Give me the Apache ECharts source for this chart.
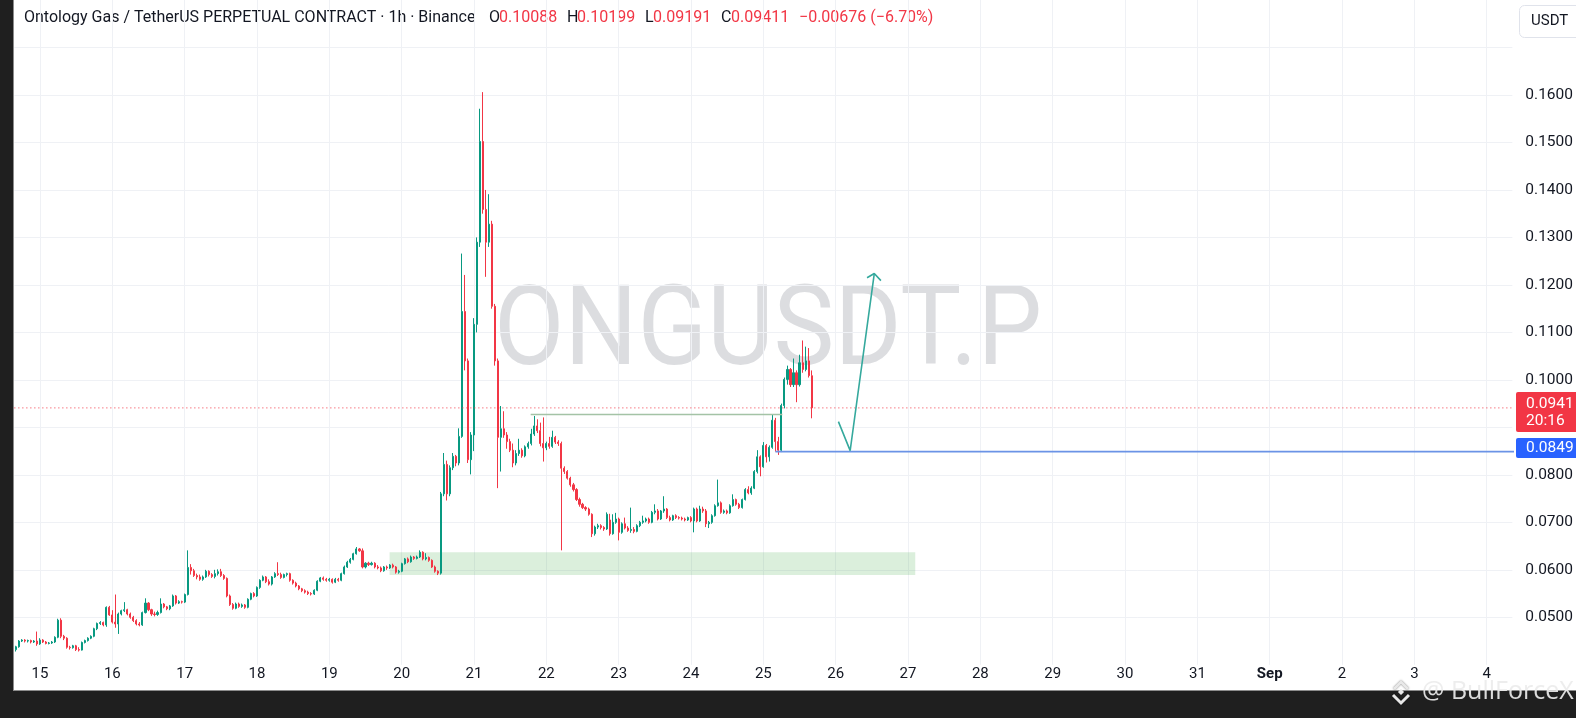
<!DOCTYPE html>
<html><head><meta charset="utf-8">
<script src="https://cdn.jsdelivr.net/npm/echarts@6/dist/echarts.min.js"></script>
<style>
html,body{margin:0;padding:0;background:#1f1f1f;width:1576px;height:718px;overflow:hidden}
#panel{position:absolute;left:13px;top:0;width:1563px;height:691px;background:#fff;border-left:1px solid #8c8c8c;border-bottom:1px solid #8c8c8c;box-sizing:border-box}
#chart{position:absolute;left:0;top:0;width:1576px;height:718px}
</style></head><body>
<div id="panel"></div><div id="chart"></div>
<script>
// ---- data: hourly candles [open, high, low, close], ONGUSDT.P 1h ----
const d14 = [[.0432,.0440,.0428,.0438],[.0438,.0452,.0436,.0450],[.0450,.0454,.0448,.0452],[.0452,.0454,.0447,.0450],[.0450,.0453,.0447,.0451],[.0451,.0453,.0445,.0448],[.0448,.0452,.0446,.0450],[.0450,.0470,.0440,.0444]];
const d15 = [[.0444,.0456,.0442,.0452],[.0452,.0454,.0446,.0448],[.0448,.0450,.0443,.0445],[.0445,.0448,.0443,.0446],[.0446,.0450,.0444,.0448],[.0448,.0460,.0446,.0458],[.0458,.0497,.0456,.0494],[.0494,.0498,.0456,.0460],[.0460,.0463,.0452,.0456],[.0456,.0458,.0434,.0437],[.0437,.0440,.0432,.0436],[.0436,.0442,.0434,.0440],[.0440,.0442,.0429,.0432],[.0432,.0437,.0428,.0431],[.0431,.0449,.0430,.0447],[.0447,.0453,.0445,.0451],[.0451,.0458,.0449,.0456],[.0456,.0462,.0454,.0460],[.0460,.0478,.0458,.0476],[.0476,.0489,.0473,.0487],[.0487,.0492,.0484,.0489],[.0489,.0491,.0481,.0484],[.0484,.0523,.0480,.0521],[.0521,.0524,.0503,.0505]];
const d16 = [[.0505,.0515,.0487,.0490],[.0490,.0548,.0478,.0486],[.0486,.0510,.0465,.0507],[.0507,.0516,.0504,.0514],[.0514,.0532,.0511,.0516],[.0516,.0518,.0504,.0507],[.0507,.0510,.0497,.0500],[.0500,.0503,.0490,.0493],[.0493,.0496,.0483,.0486],[.0486,.0490,.0481,.0484],[.0484,.0512,.0482,.0510],[.0510,.0540,.0508,.0530],[.0530,.0532,.0513,.0516],[.0516,.0518,.0503,.0507],[.0507,.0512,.0502,.0506],[.0506,.0514,.0503,.0510],[.0510,.0540,.0508,.0528],[.0528,.0530,.0519,.0522],[.0522,.0524,.0515,.0518],[.0518,.0526,.0515,.0524],[.0524,.0548,.0522,.0545],[.0545,.0547,.0527,.0530],[.0530,.0536,.0528,.0533],[.0533,.0535,.0529,.0532]];
const d17 = [[.0532,.0550,.0530,.0548],[.0548,.0641,.0546,.0605],[.0605,.0612,.0590,.0598],[.0598,.0602,.0585,.0588],[.0588,.0592,.0580,.0585],[.0585,.0590,.0577,.0580],[.0580,.0588,.0577,.0585],[.0585,.0600,.0583,.0597],[.0597,.0599,.0586,.0590],[.0590,.0593,.0583,.0586],[.0586,.0600,.0582,.0592],[.0592,.0601,.0588,.0596],[.0596,.0602,.0585,.0588],[.0588,.0591,.0579,.0582],[.0582,.0584,.0542,.0545],[.0545,.0548,.0524,.0527],[.0527,.0530,.0516,.0519],[.0519,.0531,.0517,.0528],[.0528,.0531,.0520,.0523],[.0523,.0529,.0520,.0526],[.0526,.0528,.0518,.0521],[.0521,.0540,.0519,.0538],[.0538,.0552,.0536,.0550],[.0550,.0553,.0542,.0545]];
const d18 = [[.0545,.0565,.0543,.0563],[.0563,.0580,.0560,.0578],[.0578,.0588,.0576,.0585],[.0585,.0587,.0572,.0575],[.0575,.0580,.0567,.0570],[.0570,.0587,.0567,.0585],[.0585,.0595,.0583,.0592],[.0592,.0616,.0587,.0590],[.0590,.0594,.0581,.0584],[.0584,.0592,.0582,.0590],[.0590,.0594,.0586,.0592],[.0592,.0594,.0575,.0578],[.0578,.0580,.0569,.0572],[.0572,.0575,.0563,.0566],[.0566,.0568,.0557,.0560],[.0560,.0562,.0553,.0556],[.0556,.0559,.0550,.0553],[.0553,.0556,.0547,.0550],[.0550,.0553,.0546,.0549],[.0549,.0559,.0547,.0557],[.0557,.0578,.0555,.0576],[.0576,.0585,.0574,.0583],[.0583,.0586,.0577,.0580],[.0580,.0583,.0575,.0578]];
const d19 = [[.0578,.0583,.0575,.0580],[.0580,.0582,.0571,.0574],[.0574,.0583,.0572,.0580],[.0580,.0583,.0575,.0578],[.0578,.0594,.0576,.0592],[.0592,.0609,.0590,.0606],[.0606,.0619,.0604,.0616],[.0616,.0625,.0613,.0622],[.0622,.0636,.0620,.0634],[.0634,.0648,.0632,.0644],[.0644,.0646,.0638,.0640],[.0640,.0645,.0603,.0606],[.0606,.0616,.0603,.0614],[.0614,.0617,.0608,.0611],[.0611,.0617,.0609,.0614],[.0614,.0616,.0603,.0606],[.0606,.0610,.0601,.0604],[.0604,.0607,.0595,.0598],[.0598,.0608,.0596,.0606],[.0606,.0609,.0600,.0604],[.0604,.0612,.0602,.0610],[.0610,.0613,.0603,.0606],[.0606,.0608,.0592,.0595],[.0595,.0600,.0592,.0597]];
const d20 = [[.0597,.0615,.0595,.0613],[.0613,.0625,.0611,.0623],[.0623,.0626,.0614,.0617],[.0617,.0630,.0615,.0627],[.0627,.0629,.0621,.0624],[.0624,.0630,.0622,.0627],[.0627,.0641,.0625,.0637],[.0637,.0639,.0620,.0623],[.0623,.0635,.0620,.0626],[.0626,.0628,.0617,.0620],[.0620,.0622,.0604,.0606],[.0606,.0609,.0594,.0597],[.0597,.0599,.0589,.0593],[.0593,.0764,.0590,.0760],[.0760,.0846,.0755,.0822],[.0822,.0830,.0746,.0760],[.0760,.0820,.0755,.0815],[.0815,.0846,.0810,.0839],[.0839,.0842,.0818,.0825],[.0825,.0898,.0820,.0881],[.0881,.1266,.0878,.1144],[.1144,.1221,.1020,.1040],[.1040,.1045,.0825,.0832],[.0832,.0890,.0801,.0884]];
const d21 = [[.0884,.1130,.0850,.1117],[.1117,.1300,.1100,.1290],[.1290,.1571,.1280,.1502],[.1502,.1606,.1350,.1359],[.1359,.1400,.1217,.1290],[.1290,.1391,.1280,.1328],[.1328,.1335,.1150,.1155],[.1155,.1160,.1030,.1040],[.1040,.1045,.0772,.0879],[.0879,.0945,.0807,.0897],[.0897,.0934,.0878,.0884],[.0884,.0890,.0855,.0870],[.0870,.0876,.0848,.0852],[.0852,.0866,.0816,.0825],[.0825,.0852,.0820,.0845],[.0845,.0876,.0840,.0852],[.0852,.0856,.0836,.0840],[.0840,.0862,.0837,.0859],[.0859,.0870,.0855,.0866],[.0866,.0897,.0862,.0886],[.0886,.0924,.0882,.0903],[.0903,.0917,.0888,.0893],[.0893,.0910,.0860,.0866],[.0866,.0921,.0828,.0857]];
const d22 = [[.0857,.0870,.0852,.0866],[.0866,.0880,.0855,.0860],[.0860,.0893,.0857,.0879],[.0879,.0882,.0865,.0869],[.0869,.0873,.0861,.0866],[.0866,.0870,.0641,.0814],[.0814,.0818,.0802,.0807],[.0807,.0810,.0790,.0793],[.0793,.0796,.0775,.0779],[.0779,.0783,.0765,.0769],[.0769,.0772,.0745,.0748],[.0748,.0752,.0733,.0738],[.0738,.0741,.0728,.0731],[.0731,.0734,.0724,.0728],[.0728,.0731,.0714,.0717],[.0717,.0719,.0669,.0676],[.0676,.0693,.0672,.0690],[.0690,.0697,.0686,.0693],[.0693,.0696,.0685,.0689],[.0689,.0692,.0682,.0686],[.0686,.0721,.0684,.0717],[.0705,.0718,.0672,.0676],[.0676,.0717,.0674,.0700],[.0700,.0720,.0697,.0707]];
const d23 = [[.0707,.0710,.0662,.0679],[.0679,.0700,.0676,.0697],[.0697,.0710,.0685,.0688],[.0688,.0692,.0680,.0683],[.0683,.0731,.0678,.0685],[.0685,.0690,.0677,.0681],[.0681,.0696,.0679,.0693],[.0693,.0703,.0690,.0700],[.0700,.0714,.0697,.0703],[.0703,.0710,.0700,.0707],[.0707,.0710,.0697,.0700],[.0700,.0724,.0698,.0721],[.0721,.0738,.0717,.0724],[.0724,.0728,.0704,.0707],[.0707,.0726,.0705,.0724],[.0724,.0755,.0720,.0728],[.0728,.0730,.0707,.0710],[.0710,.0714,.0702,.0705],[.0705,.0716,.0703,.0714],[.0714,.0717,.0707,.0710],[.0710,.0713,.0706,.0709],[.0709,.0712,.0704,.0707],[.0707,.0710,.0702,.0705],[.0705,.0712,.0703,.0710]];
const d24 = [[.0710,.0713,.0700,.0703],[.0703,.0731,.0679,.0728],[.0728,.0731,.0700,.0703],[.0703,.0735,.0701,.0728],[.0728,.0733,.0720,.0724],[.0724,.0728,.0690,.0697],[.0697,.0703,.0688,.0700],[.0700,.0717,.0697,.0714],[.0714,.0738,.0712,.0735],[.0735,.0790,.0733,.0741],[.0741,.0744,.0718,.0721],[.0721,.0727,.0718,.0724],[.0724,.0727,.0717,.0720],[.0720,.0738,.0718,.0735],[.0735,.0759,.0733,.0748],[.0748,.0750,.0735,.0738],[.0738,.0741,.0728,.0731],[.0731,.0750,.0729,.0748],[.0748,.0772,.0746,.0769],[.0769,.0776,.0759,.0762],[.0762,.0776,.0758,.0772],[.0772,.0810,.0770,.0807],[.0807,.0852,.0803,.0838],[.0838,.0841,.0797,.0817]];
const d25 = [[.0817,.0869,.0815,.0862],[.0862,.0865,.0826,.0838],[.0838,.0862,.0828,.0858],[.0858,.0928,.0855,.0915],[.0915,.0920,.0849,.0870],[.0870,.0880,.0842,.0852],[.0852,.0950,.0848,.0946],[.0946,.1005,.0940,.1001],[.1001,.1030,.0990,.1022],[.1022,.1025,.0985,.0990],[.0990,.1045,.0985,.1015],[.1015,.1020,.0953,.0990],[.0990,.1053,.0986,.1036],[.1036,.1083,.1015,.1022],[.1022,.1070,.1018,.1040],[.1040,.1067,.1005,.1009],[.10088,.10199,.09191,.09411]];

// axis labels
const dayLabels = ['15','16','17','18','19','20','21','22','23','24','25','26','27','28','29','30','31','Sep','2','3','4'];
const priceTickDigits = 4;
const maxPriceLabel = 0.16;

// annotations (hour offsets from Aug 15 00:00, price)
const zoneBox = [[116, 0.0637], [290.4, 0.0589]];
const resistLine = [[162.8, 0.0927], [246.3, 0.0927]];
const supportLine = [[244, 0.0849], [490, 0.0849]];
const lastPrice = 0.0941;
const arrowPath = [[264.9, 0.0912], [268.8, 0.0851], [276.8, 0.1224]];
const arrowHead = [[274.4, 0.1215], [276.8, 0.1224], [279.0, 0.1209]];

// ---- build ----
const candles = [].concat(d14,d15,d16,d17,d18,d19,d20,d21,d22,d23,d24,d25);
const NCAT = 497;          // hourly slots Aug 14 16:00 .. Sep 4
const FIRST_H = -8;        // first slot = Aug 14 16:00
const cats = [];
for (let i = 0; i < NCAT; i++) {
  const t = new Date(Date.UTC(2025, 7, 14, 16 + i));
  cats.push((t.getUTCMonth()+1) + '-' + t.getUTCDate() + ' ' + t.getUTCHours() + ':00');
}
const kData = candles.map(r => [r[0], r[3], r[2], r[1]]);

const UP = '#089981', DOWN = '#f23645', TXT = '#131722', GRID = '#eff1f5';
const FF = 'Roboto, "Noto Sans", sans-serif';
const bw = 3.0167, gLeft = 14.36, gWidth = NCAT * bw;
const pxPer = 47.95, p16y = 89.4;
const gTop = p16y - 2 * pxPer, gHeight = 14 * pxPer;
const isDay = (i) => i >= 8 && (i - 8) % 24 === 0;

// watermark scaling
const mc = document.createElement('canvas').getContext('2d');
mc.font = '112px Roboto';
const wmScale = 548 / mc.measureText('ONGUSDT.P').width;

const T = (x, y, text, fill, size, extra) => Object.assign({type: 'text', x: x, y: y,
  style: {text: text, verticalAlign: 'middle', fontSize: size, fontFamily: FF, fill: fill}}, extra || {});
const TS = 16;

const chart = echarts.init(document.getElementById('chart'), null, {renderer: 'canvas'});
const option = {
  backgroundColor: 'transparent',
  animation: false,
  grid: {left: gLeft, width: gWidth, top: gTop, height: gHeight, containLabel: false},
  xAxis: [{
    type: 'category', data: cats, boundaryGap: true,
    axisLine: {show: false}, axisTick: {show: false},
    axisLabel: {
      interval: (i) => isDay(i), margin: 2, color: TXT, fontSize: 15, fontFamily: FF,
      formatter: (v, i) => { const t = dayLabels[(i - 8) / 24]; return t === 'Sep' ? '{b|Sep}' : t; },
      rich: {b: {fontWeight: 'bold', fontSize: 15, fontFamily: FF, color: TXT}}
    },
    splitLine: {show: true, interval: (i) => isDay(i), alignWithLabel: true, lineStyle: {color: GRID, width: 1}}
  }, {
    type: 'value', min: FIRST_H - 0.5, max: FIRST_H - 0.5 + NCAT, show: false
  }],
  yAxis: {
    type: 'value', position: 'right', min: 0.04, max: 0.18, interval: 0.01,
    axisLine: {show: false}, axisTick: {show: false},
    axisLabel: {color: TXT, fontSize: 15.5, fontFamily: FF, margin: 13, showMinLabel: false, showMaxLabel: false,
      formatter: (v) => v > maxPriceLabel + 0.001 ? '' : v.toFixed(priceTickDigits)},
    splitLine: {show: true, showMinLine: false, showMaxLine: false, lineStyle: {color: GRID, width: 1}}
  },
  graphic: [
    {type: 'text', x: 768, y: 336, scaleX: wmScale, z: -10, silent: true,
      style: {text: 'ONGUSDT.P', x: 0, y: 0, align: 'center', verticalAlign: 'middle', fontSize: 112, fontFamily: 'Roboto', fill: 'rgba(120,123,134,0.26)'}},
    T(24, 18, 'Ontology Gas / TetherUS PERPETUAL CONTRACT · 1h · Binance', TXT, TS),
    T(489, 18, 'O', TXT, TS), T(499, 18, '0.10088', DOWN, TS),
    T(567, 18, 'H', TXT, TS), T(577, 18, '0.10199', DOWN, TS),
    T(645, 18, 'L', TXT, TS), T(653, 18, '0.09191', DOWN, TS),
    T(721, 18, 'C', TXT, TS), T(731, 18, '0.09411', DOWN, TS),
    T(799, 18, '\u22120.00676 (\u22126.70%)', DOWN, TS),
    {type: 'rect', shape: {x: 1519.5, y: 5.5, width: 80, height: 32, r: 5}, style: {fill: '#fff', stroke: '#e0e3eb', lineWidth: 1}},
    T(1531, 21.5, 'USDT', TXT, 15),
    {type: 'rect', shape: {x: 1516, y: 392, width: 70, height: 40, r: 2}, style: {fill: DOWN}, z: 100},
    T(1526, 404, '0.0941', '#fff', 15.5, {z: 101}),
    T(1526, 421, '20:16', '#fff', 15.5, {z: 101}),
    {type: 'rect', shape: {x: 1516, y: 438, width: 70, height: 20, r: 2}, style: {fill: '#2962ff'}, z: 100},
    T(1526, 448, '0.0849', '#fff', 15.5, {z: 101}),
    {type: 'polyline', z: 100, shape: {points: [[1394,689],[1401,682],[1408,689]]}, style: {stroke: '#e8e8e8', lineWidth: 2.5, fill: null, shadowColor: 'rgba(0,0,0,0.5)', shadowBlur: 2}},
    {type: 'polyline', z: 100, shape: {points: [[1393,695],[1401,703],[1409,695]]}, style: {stroke: '#e8e8e8', lineWidth: 3, fill: null, shadowColor: 'rgba(0,0,0,0.5)', shadowBlur: 2}},
    {type: 'rect', z: 100, x: 1401, y: 692, rotation: Math.PI/4, shape: {x: -2.2, y: -2.2, width: 4.4, height: 4.4}, style: {fill: '#e8e8e8'}},
    {type: 'text', x: 1422, y: 692, z: 100, style: {text: '@ BullForceX', verticalAlign: 'middle', fontSize: 25, fontFamily: 'Open Sans, sans-serif', fill: 'rgba(236,236,236,0.92)', shadowColor: 'rgba(0,0,0,0.45)', shadowBlur: 2}}
  ],
  series: [
    {type: 'line', xAxisIndex: 1, data: [], z: 1, silent: true,
      markArea: {silent: true, itemStyle: {color: 'rgba(76,175,80,0.2)'},
        data: [[{coord: zoneBox[0]}, {coord: zoneBox[1]}]]}},
    {type: 'candlestick', xAxisIndex: 0, data: kData, barWidth: '52%', z: 3,
      itemStyle: {color: UP, color0: DOWN, borderColor: UP, borderColor0: DOWN, borderWidth: 1}},
    {type: 'line', xAxisIndex: 1, data: [[FIRST_H - 0.5, lastPrice], [FIRST_H - 0.5 + NCAT, lastPrice]], symbol: 'none', z: 4, silent: true,
      lineStyle: {color: DOWN, width: 1, type: [1, 3]}},
    {type: 'line', xAxisIndex: 1, data: resistLine, symbol: 'none', z: 4, silent: true,
      lineStyle: {color: '#a4c3a6', width: 1.6}},
    {type: 'line', xAxisIndex: 1, data: supportLine, symbol: 'none', z: 4, silent: true,
      lineStyle: {color: '#6b93e6', width: 1.6}},
    {type: 'line', xAxisIndex: 1, data: arrowPath, symbol: 'none', z: 4, silent: true,
      lineStyle: {color: '#35a99d', width: 1.6}},
    {type: 'line', xAxisIndex: 1, data: arrowHead, symbol: 'none', z: 4, silent: true,
      lineStyle: {color: '#35a99d', width: 1.6}}
  ]
};
chart.setOption(option);
</script></body></html>
